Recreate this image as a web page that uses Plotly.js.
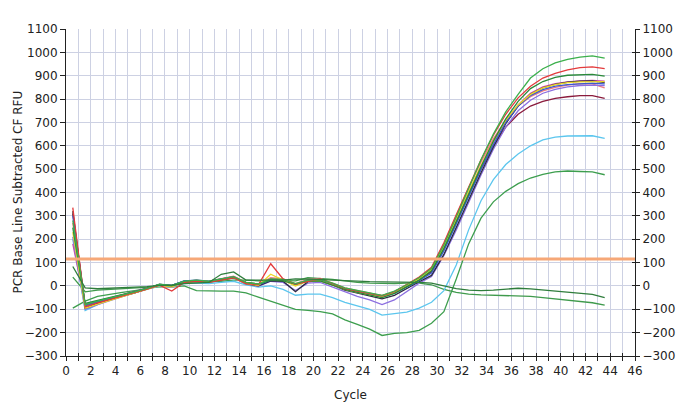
<!DOCTYPE html>
<html>
<head>
<meta charset="utf-8">
<script src="https://cdn.plot.ly/plotly-3.0.1.min.js"></script>
<style>html,body{margin:0;padding:0;background:#fff;}#chart{width:679px;height:412px;}</style>
</head>
<body>
<div id="chart"></div>
<script>
// cycle positions of the readings
var cycles = [0.55,1.55,2.55,3.55,4.55,5.55,6.55,7.55,8.55,9.55,10.55,11.55,12.55,13.55,14.55,15.55,16.55,17.55,18.55,19.55,20.55,21.55,22.55,23.55,24.55,25.55,26.55,27.55,28.55,29.55,30.55,31.55,32.55,33.55,34.55,35.55,36.55,37.55,38.55,39.55,40.55,41.55,42.55,43.55];

var greenTop = [280,-80,-65,-52,-40,-25,-10,8,2,20,25,20,30,40,15,8,30,28,10,25,28,12,-8,-20,-30,-40,-22,5,35,75,175,295,420,540,650,745,820,890,930,955,970,980,985,975];
var red = [335,-90,-72,-58,-45,-30,-14,3,-22,15,20,15,25,35,10,5,95,30,8,20,30,10,-10,-22,-32,-42,-25,5,38,80,185,305,425,540,645,735,805,855,890,910,925,935,938,930];
var green2 = [250,-75,-62,-50,-38,-24,-10,5,0,15,20,15,25,35,15,8,25,22,8,20,22,5,-15,-28,-38,-50,-32,-2,25,65,160,275,395,510,620,715,790,845,875,893,902,905,906,898];
var yellow = [230,-95,-78,-62,-48,-32,-15,2,-3,15,20,18,25,35,10,2,50,25,0,20,22,5,-15,-28,-38,-48,-30,2,30,70,170,290,405,515,620,710,775,820,848,862,870,874,876,875];
var blue = [300,-85,-68,-54,-40,-26,-10,6,2,22,25,20,30,38,12,5,25,25,5,25,25,8,-12,-25,-35,-47,-32,-5,22,55,150,265,385,500,605,700,770,815,840,855,862,866,868,865];
var navy = [320,-95,-75,-58,-44,-30,-14,4,0,18,22,18,28,36,10,0,22,20,-25,18,22,4,-18,-30,-42,-55,-40,-10,18,45,135,250,370,485,595,695,770,820,848,863,872,877,878,870];
var purple = [210,-100,-80,-62,-46,-30,-12,6,2,20,22,16,26,34,8,-2,20,15,-20,12,15,-5,-28,-45,-60,-80,-60,-25,12,40,130,240,360,475,585,680,750,795,825,842,852,858,860,858];
var pink = [270,-88,-72,-56,-44,-30,-14,4,-5,18,24,20,30,42,15,8,35,30,10,28,32,12,-8,-20,-30,-42,-24,5,35,75,180,300,420,530,630,710,770,810,835,850,860,866,865,848];
var darkRed = [310,-82,-68,-54,-42,-27,-12,6,2,20,24,18,28,40,14,6,30,26,6,22,26,10,-10,-24,-34,-45,-30,0,28,60,160,275,390,500,600,680,735,770,790,803,810,815,815,803];
var magenta = [180,-78,-66,-52,-40,-26,-11,5,0,18,22,18,30,40,12,4,28,24,4,22,24,7,-13,-26,-36,-46,-30,-2,28,65,165,280,400,510,615,705,775,825,852,866,874,878,880,877];
var lightBlue = [200,-105,-80,-60,-45,-30,-15,0,-5,10,12,10,15,20,5,-5,0,-15,-40,-35,-35,-50,-70,-85,-100,-125,-118,-112,-95,-70,-20,90,240,365,455,520,565,600,625,637,642,644,643,632];
var greenLow = [-95,-65,-45,-35,-28,-20,-10,-3,-5,0,-20,-22,-22,-22,-30,-48,-65,-80,-100,-105,-110,-120,-145,-165,-185,-212,-203,-200,-190,-160,-110,30,180,290,360,405,438,462,478,488,492,490,488,476];
var flatA = [83,-8,-12,-10,-10,-8,-3,2,3,10,12,15,50,60,25,25,25,25,30,30,28,25,22,20,18,17,17,16,15,12,0,-12,-18,-20,-18,-13,-10,-13,-18,-22,-25,-30,-36,-50];
var flatB = [38,-25,-18,-15,-12,-8,-5,0,0,15,18,18,20,25,25,22,25,25,22,35,32,28,22,15,12,10,10,12,12,5,-15,-28,-35,-38,-40,-40,-42,-45,-50,-55,-62,-68,-72,-82];

var threshold = 115;
var thresholdX = [0, 46];

var series = [
  {y: flatA, c: '#2f7d3c', ax: 'y3'},
  {y: flatB, c: '#3f9a4c'},
  {y: greenLow, c: '#3d9e4e'},
  {y: lightBlue, c: '#5cc6ee'},
  {y: magenta, c: '#cc4aa8'},
  {y: darkRed, c: '#8a1a3c'},
  {y: pink, c: '#f07a80'},
  {y: purple, c: '#8c6fe0'},
  {y: navy, c: '#2c2c40'},
  {y: blue, c: '#3a5ad0'},
  {y: yellow, c: '#ecd828'},
  {y: green2, c: '#2a8a3a'},
  {y: red, c: '#e33a3c'},
  {y: greenTop, c: '#3cb04c'}
];

var traces = series.map(function(s){
  return {x: cycles, y: s.y, type: 'scatter', mode: 'lines', yaxis: s.ax || 'y',
          line: {color: s.c, width: 1.3}, hoverinfo: 'skip'};
});
traces.push({x: thresholdX, y: [threshold, threshold], type: 'scatter', mode: 'lines',
  xaxis: 'x2', yaxis: 'y2', line: {color: '#f6a878', width: 3}, hoverinfo: 'skip'});

var gridC = '#cdd1e3';
var axC = '#222';
var layout = {
  width: 679, height: 412,
  margin: {l: 66, r: 44, t: 29, b: 56},
  paper_bgcolor: '#fff', plot_bgcolor: '#fff',
  showlegend: false,
  font: {family: 'DejaVu Sans, Verdana, sans-serif', size: 12, color: axC},
  xaxis: {
    range: [0, 46], tick0: 0, dtick: 2, ticks: 'outside', ticklen: 4, tickcolor: axC,
    showline: true, linecolor: axC, linewidth: 1, showgrid: true, gridcolor: gridC,
    zeroline: false, fixedrange: true,
    minor: {dtick: 1, ticks: 'outside', ticklen: 4, tickcolor: axC, showgrid: true, gridcolor: gridC},
    title: {text: 'Cycle', standoff: 13, font: {size: 12}}
  },
  xaxis2: {
    overlaying: 'x', anchor: 'y', side: 'bottom', range: [0, 46], tick0: 0, dtick: 1,
    ticks: 'inside', ticklen: 3, tickcolor: axC, showticklabels: false,
    showgrid: false, zeroline: false, showline: false, fixedrange: true
  },
  yaxis: {
    range: [-300, 1100], tick0: 0, dtick: 100, ticks: 'outside', ticklen: 5, tickcolor: axC,
    showline: true, linecolor: axC, linewidth: 1, showgrid: true, gridcolor: gridC,
    zeroline: false, fixedrange: true
  },
  yaxis2: {
    overlaying: 'y', anchor: 'x', side: 'right', range: [-300, 1100], tick0: 0, dtick: 100,
    ticks: 'outside', ticklen: 4, tickcolor: axC, showline: true, linecolor: axC,
    showgrid: false, zeroline: false, fixedrange: true
  },
  yaxis3: {
    overlaying: 'y', side: 'right', range: [-300, 1100], tick0: 0, dtick: 100,
    ticks: 'inside', ticklen: 3, tickcolor: axC, showticklabels: false, showline: false,
    showgrid: false, zeroline: false, fixedrange: true
  },
  annotations: [{
    text: 'PCR Base Line Subtracted CF RFU', textangle: -90,
    xref: 'paper', yref: 'paper', x: 0, y: 0.5, xshift: -49,
    xanchor: 'center', yanchor: 'middle', showarrow: false,
    font: {size: 12, color: axC}
  }]
};

Plotly.newPlot('chart', traces, layout, {staticPlot: true, displayModeBar: false});
</script>
</body>
</html>
